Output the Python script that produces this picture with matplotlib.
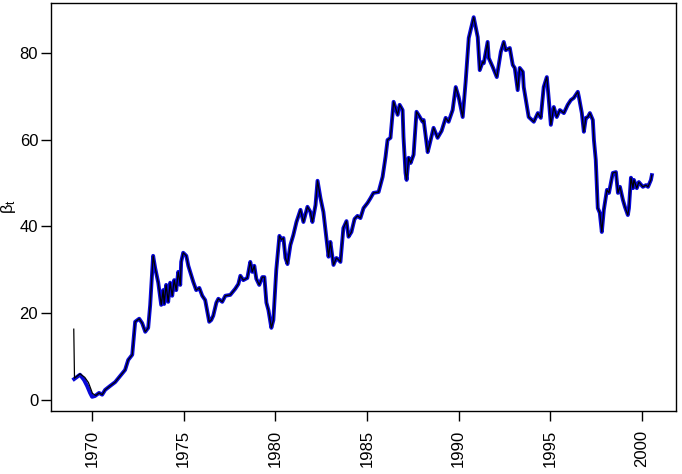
import matplotlib
matplotlib.use("Agg")
import matplotlib.pyplot as plt

plt.rcParams['font.family'] = ['Liberation Sans', 'DejaVu Sans']
plt.rcParams['mathtext.fontset'] = 'custom'
plt.rcParams['mathtext.rm'] = 'Liberation Sans'
plt.rcParams['mathtext.it'] = 'Liberation Sans'

# smoothed beta (blue)
years = [1969.02, 1969.34, 1969.56, 1969.73, 1969.89, 1970.00, 1970.16, 1970.38, 1970.55, 1970.71,
         1970.98, 1971.26, 1971.53, 1971.80, 1971.97, 1972.19, 1972.35, 1972.57, 1972.73, 1972.90,
         1973.06, 1973.17, 1973.33, 1973.44, 1973.61, 1973.77, 1973.88, 1973.93, 1974.04, 1974.15,
         1974.26, 1974.37, 1974.48, 1974.59, 1974.70, 1974.81, 1974.86, 1974.97, 1975.14, 1975.25,
         1975.35, 1975.52, 1975.68, 1975.85, 1976.01, 1976.17, 1976.28, 1976.39, 1976.50, 1976.61,
         1976.78, 1976.89, 1977.10, 1977.27, 1977.54, 1977.81, 1977.98, 1978.09, 1978.25, 1978.47,
         1978.63, 1978.74, 1978.85, 1978.96, 1979.12, 1979.29, 1979.40, 1979.51, 1979.62, 1979.78,
         1979.89, 1980.05, 1980.22, 1980.33, 1980.44, 1980.55, 1980.66, 1980.82, 1980.98, 1981.15,
         1981.37, 1981.53, 1981.75, 1981.91, 1982.02, 1982.19, 1982.30, 1982.46, 1982.62, 1982.73,
         1982.90, 1983.00, 1983.17, 1983.33, 1983.44, 1983.55, 1983.71, 1983.88, 1983.99, 1984.15,
         1984.32, 1984.48, 1984.64, 1984.81, 1985.03, 1985.19, 1985.35, 1985.63, 1985.85, 1986.01,
         1986.12, 1986.28, 1986.45, 1986.67, 1986.78, 1986.94, 1986.99, 1987.10, 1987.16, 1987.27,
         1987.38, 1987.54, 1987.70, 1987.81, 1988.03, 1988.09, 1988.31, 1988.41, 1988.63, 1988.85,
         1989.07, 1989.29, 1989.45, 1989.67, 1989.84, 1990.00, 1990.22, 1990.38, 1990.55, 1990.82,
         1991.04, 1991.15, 1991.31, 1991.37, 1991.58, 1991.64, 1991.86, 1992.08, 1992.30, 1992.46,
         1992.57, 1992.79, 1992.95, 1993.06, 1993.22, 1993.33, 1993.50, 1993.55, 1993.82, 1994.10,
         1994.32, 1994.48, 1994.64, 1994.81, 1994.92, 1995.03, 1995.19, 1995.35, 1995.52, 1995.74,
         1995.95, 1996.12, 1996.28, 1996.50, 1996.56, 1996.72, 1996.83, 1996.94, 1997.05, 1997.16,
         1997.32, 1997.38, 1997.48, 1997.59, 1997.70, 1997.81, 1997.92, 1998.09, 1998.20, 1998.41,
         1998.58, 1998.69, 1998.80, 1998.96, 1999.07, 1999.23, 1999.29, 1999.40, 1999.51, 1999.56,
         1999.72, 1999.83, 2000.05, 2000.22, 2000.33, 2000.49, 2000.54]
beta_smooth = [4.8, 5.8, 4.6, 3.2, 1.6, 0.7, 0.9, 1.6, 1.2, 2.3,
               3.2, 4.1, 5.5, 6.9, 9.2, 10.4, 18.0, 18.7, 17.7, 15.7,
               16.6, 21.9, 33.2, 30.4, 27.0, 21.9, 25.3, 22.1, 26.5, 22.6,
               27.0, 24.0, 27.6, 25.3, 29.5, 26.5, 31.8, 33.9, 33.2, 30.9,
               29.5, 27.2, 25.3, 25.8, 24.0, 23.0, 20.5, 18.0, 18.4, 19.4,
               22.4, 23.3, 22.6, 24.0, 24.2, 25.6, 26.7, 28.6, 27.6, 28.1,
               31.8, 29.5, 30.9, 27.9, 26.5, 28.3, 28.3, 22.4, 20.7, 16.6,
               18.4, 30.0, 37.8, 36.9, 37.3, 32.7, 31.3, 35.7, 38.0, 41.0,
               43.8, 41.0, 44.5, 43.3, 41.0, 44.9, 50.5, 46.5, 43.3, 39.2,
               33.0, 36.4, 31.1, 32.7, 32.3, 31.8, 39.6, 41.2, 37.6, 38.7,
               41.7, 42.4, 41.9, 44.2, 45.4, 46.5, 47.7, 47.9, 51.4, 56.0,
               59.9, 60.4, 68.7, 65.7, 68.0, 66.8, 60.6, 52.3, 50.7, 55.8,
               54.6, 56.5, 66.4, 65.7, 64.1, 64.5, 57.1, 58.8, 62.7, 60.4,
               62.0, 65.0, 64.1, 66.8, 72.1, 69.8, 65.2, 73.3, 83.4, 88.2,
               83.6, 76.0, 77.9, 77.6, 82.5, 78.8, 76.7, 74.4, 80.2, 82.5,
               80.6, 81.1, 77.2, 76.5, 71.4, 76.5, 75.6, 72.1, 65.2, 64.1,
               66.1, 65.0, 72.1, 74.4, 69.1, 63.4, 67.5, 65.2, 66.8, 66.1,
               68.0, 69.1, 69.6, 71.0, 69.8, 66.1, 61.8, 65.0, 65.2, 66.1,
               64.5, 59.9, 55.3, 44.2, 43.1, 38.7, 43.8, 48.4, 47.7, 52.3,
               52.5, 47.7, 49.1, 46.1, 44.5, 42.6, 44.2, 51.2, 48.8, 50.7,
               48.8, 50.2, 49.1, 49.5, 49.1, 50.7, 51.8]

# filtered beta (black) differs only at the start
years_filt_start = [1969.00, 1969.04, 1969.34, 1969.60, 1969.80, 1970.02, 1970.20]
beta_filt_start = [16.3, 5.0, 6.0, 5.2, 4.0, 1.5, 1.0]

x_ticks = [1970, 1975, 1980, 1985, 1990, 1995, 2000]
y_ticks = [0, 20, 40, 60, 80]

years_filt = years_filt_start + years[7:]
beta_filt = beta_filt_start + beta_smooth[7:]

fig = plt.figure(figsize=(6.82, 4.74), dpi=100)
ax = fig.add_axes([0.0743, 0.1335, 0.9167, 0.8595])

ax.plot(years, beta_smooth, color='#0808D8', lw=2.8, solid_joinstyle='round')
ax.plot(years_filt, beta_filt, color='black', lw=0.9)

ax.set_xlim(1967.74, 2001.85)
ax.set_ylim(-2.5, 91.4)
ax.set_xticks(x_ticks)
ax.set_yticks(y_ticks)
ax.tick_params(axis='both', direction='out', length=7, width=1, labelsize=12)
ax.tick_params(axis='x', pad=7, labelrotation=90)
ax.tick_params(axis='y', pad=2)
for s in ax.spines.values():
    s.set_linewidth(1)

ax.set_ylabel(r'$\beta_{\mathrm{t}}$', fontsize=12, labelpad=1)

fig.savefig('out.png', dpi=100)
